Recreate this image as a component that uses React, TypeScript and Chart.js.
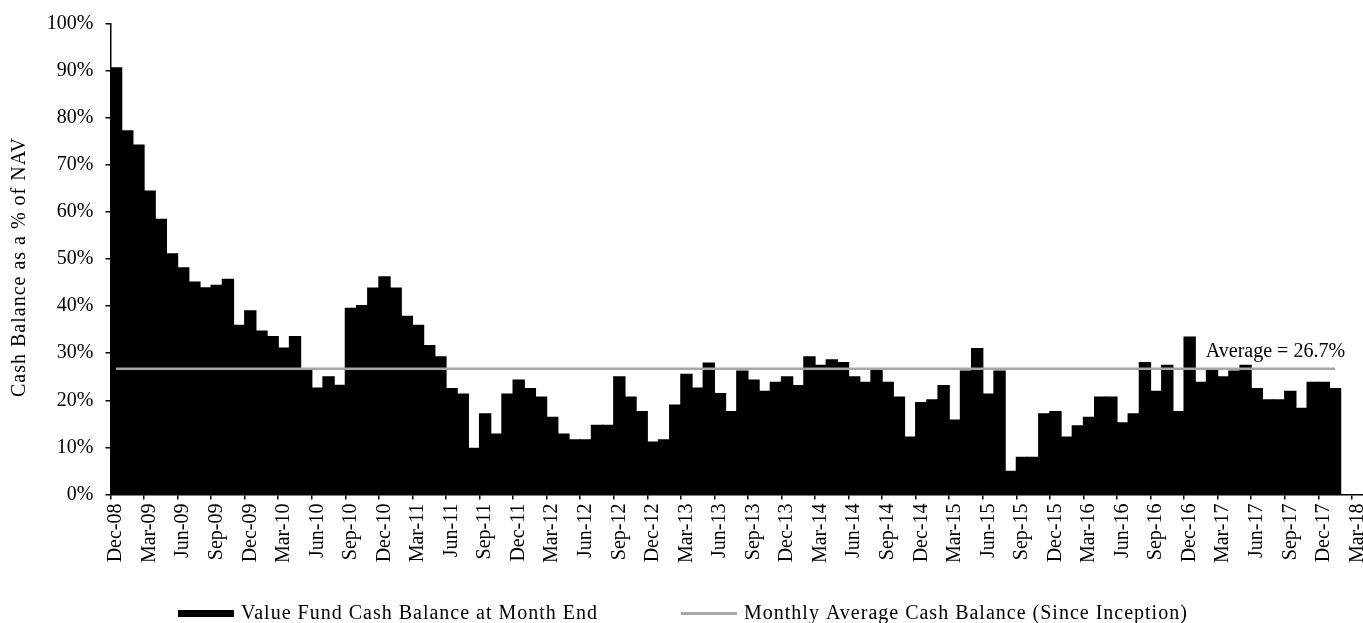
import React, { useEffect, useRef } from 'react';
import { Chart, registerables } from 'chart.js';

Chart.register(...registerables);

// Monthly categories, Dec-08 .. Mar-18
const categories: string[] = [
  'Dec-08',
  'Jan-09', 'Feb-09', 'Mar-09', 'Apr-09', 'May-09', 'Jun-09', 'Jul-09', 'Aug-09', 'Sep-09', 'Oct-09', 'Nov-09', 'Dec-09',
  'Jan-10', 'Feb-10', 'Mar-10', 'Apr-10', 'May-10', 'Jun-10', 'Jul-10', 'Aug-10', 'Sep-10', 'Oct-10', 'Nov-10', 'Dec-10',
  'Jan-11', 'Feb-11', 'Mar-11', 'Apr-11', 'May-11', 'Jun-11', 'Jul-11', 'Aug-11', 'Sep-11', 'Oct-11', 'Nov-11', 'Dec-11',
  'Jan-12', 'Feb-12', 'Mar-12', 'Apr-12', 'May-12', 'Jun-12', 'Jul-12', 'Aug-12', 'Sep-12', 'Oct-12', 'Nov-12', 'Dec-12',
  'Jan-13', 'Feb-13', 'Mar-13', 'Apr-13', 'May-13', 'Jun-13', 'Jul-13', 'Aug-13', 'Sep-13', 'Oct-13', 'Nov-13', 'Dec-13',
  'Jan-14', 'Feb-14', 'Mar-14', 'Apr-14', 'May-14', 'Jun-14', 'Jul-14', 'Aug-14', 'Sep-14', 'Oct-14', 'Nov-14', 'Dec-14',
  'Jan-15', 'Feb-15', 'Mar-15', 'Apr-15', 'May-15', 'Jun-15', 'Jul-15', 'Aug-15', 'Sep-15', 'Oct-15', 'Nov-15', 'Dec-15',
  'Jan-16', 'Feb-16', 'Mar-16', 'Apr-16', 'May-16', 'Jun-16', 'Jul-16', 'Aug-16', 'Sep-16', 'Oct-16', 'Nov-16', 'Dec-16',
  'Jan-17', 'Feb-17', 'Mar-17', 'Apr-17', 'May-17', 'Jun-17', 'Jul-17', 'Aug-17', 'Sep-17', 'Oct-17', 'Nov-17', 'Dec-17',
  'Jan-18', 'Feb-18', 'Mar-18',
];

// Cash balance at month end, % of NAV (Dec-08 .. Jan-18)
const cashBalance: number[] = [
  90.6,
  77.2, 74.2, 64.4, 58.4, 51.1, 48.1, 45.1, 43.9, 44.4, 45.7, 35.9, 39.0,
  34.7, 33.5, 31.1, 33.5, 26.6, 22.6, 25.0, 23.2, 39.5, 40.1, 43.8, 46.2,
  43.8, 37.8, 35.9, 31.6, 29.2, 22.5, 21.3, 9.8, 17.1, 12.8, 21.3, 24.3,
  22.5, 20.7, 16.4, 12.8, 11.6, 11.6, 14.7, 14.7, 25.0, 20.7, 17.6, 11.1,
  11.6, 19.0, 25.5, 22.6, 27.9, 21.4, 17.6, 26.2, 24.3, 21.9, 23.8, 25.0,
  23.1, 29.2, 27.4, 28.6, 28.0, 25.0, 23.8, 26.7, 23.8, 20.7, 12.2, 19.5,
  20.1, 23.1, 15.8, 26.2, 31.0, 21.3, 26.2, 4.9, 7.9, 7.9, 17.1, 17.6,
  12.2, 14.6, 16.4, 20.7, 20.7, 15.2, 17.1, 28.0, 21.9, 27.4, 17.6, 33.4,
  23.8, 26.7, 25.0, 26.2, 27.4, 22.5, 20.1, 20.1, 21.9, 18.3, 23.8, 23.8,
  22.5,
];

const averageValue = 26.7;
const averageLabel = 'Average = 26.7%';
const yAxisTitle = 'Cash Balance as a % of NAV';
const barLegendLabel = 'Value Fund Cash Balance at Month End';
const lineLegendLabel = 'Monthly Average Cash Balance (Since Inception)';
const yMin = 0;
const yMax = 100;
const yStep = 10;
const labelEvery = 3;

const FONT = '"Liberation Serif", "Times New Roman", serif';
const GRAY = '#a6a6a6';

const overlayPlugin = {
  id: 'overlay',
  afterDraw(chart: any) {
    const { ctx, scales } = chart;
    const x = scales.x;
    const y = scales.y;
    ctx.save();
    ctx.fillStyle = '#000';
    ctx.font = `20px ${FONT}`;

    // average annotation
    const ly = y.getPixelForValue(averageValue);
    const lx = x.getPixelForValue(cashBalance.length - 1);
    ctx.textAlign = 'right';
    ctx.textBaseline = 'alphabetic';
    ctx.fillText(averageLabel, lx + 10, ly - 12);

    // y axis title
    ctx.save();
    (ctx as any).letterSpacing = '1px';
    ctx.translate(20, 267);
    ctx.rotate(-Math.PI / 2);
    ctx.textAlign = 'center';
    ctx.textBaseline = 'middle';
    ctx.fillText(yAxisTitle, 0, 0);
    ctx.restore();

    // legend
    ctx.save();
    (ctx as any).letterSpacing = '1px';
    ctx.textAlign = 'left';
    ctx.textBaseline = 'alphabetic';
    ctx.fillStyle = '#000';
    ctx.fillRect(178, 610, 56, 7);
    ctx.fillText(barLegendLabel, 241, 619);
    ctx.strokeStyle = GRAY;
    ctx.lineWidth = 3;
    ctx.beginPath();
    ctx.moveTo(681, 613.5);
    ctx.lineTo(737, 613.5);
    ctx.stroke();
    ctx.fillText(lineLegendLabel, 744, 619);
    ctx.restore();

    ctx.restore();
  },
};

export default function App() {
  const canvasRef = useRef<HTMLCanvasElement | null>(null);

  useEffect(() => {
    if (!canvasRef.current) return;
    const chart = new Chart(canvasRef.current, {
      type: 'bar',
      data: {
        labels: categories,
        datasets: [
          {
            type: 'line',
            label: lineLegendLabel,
            data: cashBalance.map(() => averageValue),
            borderColor: GRAY,
            borderWidth: 2.7,
            pointRadius: 0,
            fill: false,
            order: 0,
          } as any,
          {
            type: 'bar',
            label: barLegendLabel,
            data: cashBalance,
            backgroundColor: '#000',
            borderWidth: 0,
            inflateAmount: 0.6,
            barPercentage: 1,
            categoryPercentage: 1,
            order: 1,
          } as any,
        ],
      },
      options: {
        animation: false,
        responsive: false,
        maintainAspectRatio: false,
        layout: { padding: { top: 23.5, left: 0, right: 0, bottom: 0 } },
        plugins: {
          legend: { display: false },
          tooltip: { enabled: false },
          title: { display: false },
        },
        scales: {
          x: {
            offset: true,
            grid: {
              offset: true,
              drawOnChartArea: false,
              drawTicks: true,
              tickLength: 5,
              lineWidth: 1.5,
              color: (c: any) =>
                c.index !== undefined && c.type === 'tick' && c.index % labelEvery === 0 ? '#000' : 'rgba(0,0,0,0)',
            },
            border: { display: true, color: '#000', width: 1.5 },
            ticks: {
              autoSkip: false,
              maxRotation: 90,
              minRotation: 90,
              padding: 4,
              color: '#000',
              font: { family: FONT, size: 20 },
              callback: (_v: any, i: number) => (i % labelEvery === 0 ? categories[i] : ''),
            },
            afterFit: (s: any) => {
              s.height = 128.5;
              s.paddingLeft = 0;
              s.paddingRight = 0;
            },
          } as any,
          y: {
            min: yMin,
            max: yMax,
            grid: {
              drawOnChartArea: false,
              drawTicks: true,
              tickLength: 5,
              lineWidth: 1.5,
              color: '#000',
            },
            border: { display: true, color: '#000', width: 1.5 },
            ticks: {
              stepSize: yStep,
              padding: 12,
              color: '#000',
              font: { family: FONT, size: 20 },
              callback: (v: any) => `${v}%`,
            },
            afterFit: (s: any) => {
              s.width = 110.5;
              s.paddingTop = 0;
              s.paddingBottom = 0;
            },
          } as any,
        },
      },
      plugins: [overlayPlugin],
    });
    return () => chart.destroy();
  }, []);

  return (
    <div style={{ position: 'absolute', left: 0, top: 0, width: 1363, height: 623, background: '#fff' }}>
      <canvas ref={canvasRef} width={1363} height={623} style={{ display: 'block', width: 1363, height: 623 }} />
    </div>
  );
}
